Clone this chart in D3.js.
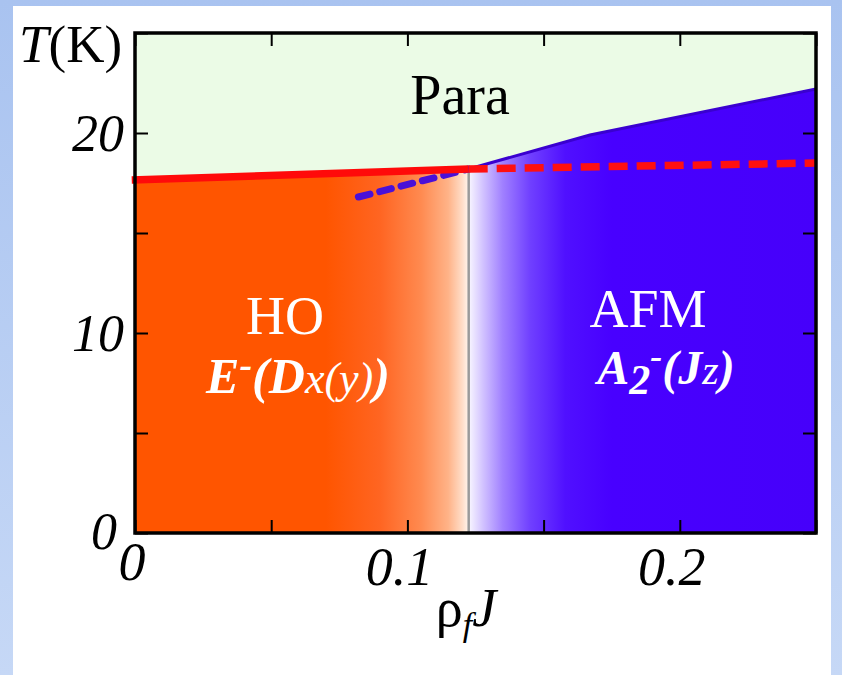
<!DOCTYPE html>
<html>
<head>
<meta charset="utf-8">
<script src="https://cdn.jsdelivr.net/npm/d3@7"></script>
<style>
  html, body { margin: 0; padding: 0; }
  body { width: 842px; height: 675px; overflow: hidden; }
  svg { display: block; }
</style>
</head>
<body>
<svg id="chart" width="842" height="675"></svg>
<script>
// Phase boundaries of the T vs rho_f J diagram
const hoBoundaryJ = [0, 0.1225];            // HO -> Para (solid red)
const hoBoundaryT = [17.65, 18.2];
const afmBoundaryJ = [0.1225, 0.167, 0.25]; // AFM -> Para (blue)
const afmBoundaryT = [18.2, 19.9, 22.2];
const hoMetaJ = [0.1225, 0.25];             // continuation of HO transition (dashed red)
const hoMetaT = [18.2, 18.5];
const afmMetaJ = [0.082, 0.1225];           // continuation of AFM transition (dashed blue)
const afmMetaT = [16.8, 18.2];
const criticalJ = 0.1225;                   // first-order HO/AFM line

const xTicks = [0, 0.05, 0.1, 0.15, 0.2, 0.25];
const xTickLabels = ["0", "", "0.1", "", "0.2", ""];
const yTicks = [0, 5, 10, 15, 20, 25];
const yTickLabels = ["0", "", "10", "", "20", ""];

const svg = d3.select("#chart");
const W = 842, H = 675;
const plot = { left: 135, right: 816, top: 33, bottom: 533 };

const x = d3.scaleLinear().domain([0, 0.25]).range([plot.left, plot.right]);
const y = d3.scaleLinear().domain([0, 25]).range([plot.bottom, plot.top]);

const defs = svg.append("defs");

// slide background
const bg = defs.append("linearGradient").attr("id", "bg").attr("x1", 0).attr("y1", 0).attr("x2", 0).attr("y2", 1);
bg.append("stop").attr("offset", 0).attr("stop-color", "#a9c3f0");
bg.append("stop").attr("offset", 1).attr("stop-color", "#c6d8f6");
svg.append("rect").attr("width", W).attr("height", H).attr("fill", "url(#bg)");
svg.append("rect").attr("x", 13).attr("y", 6).attr("width", 818).attr("height", H - 6).attr("fill", "#ffffff");

// region fills: colour fades to white toward the first-order line
const gHO = defs.append("linearGradient").attr("id", "gHO")
  .attr("gradientUnits", "userSpaceOnUse")
  .attr("x1", x(0)).attr("x2", x(criticalJ)).attr("y1", 0).attr("y2", 0);
[[0, "#ff5500"], [0.07, "#ff5500"], [0.09, "#ff6522"], [0.105, "#ff8a50"], [0.115, "#ffb388"], [0.12, "#ffdcc6"], [0.1225, "#fff5ee"]]
  .forEach(([j, c]) => gHO.append("stop").attr("offset", (x(j) - x(0)) / (x(criticalJ) - x(0))).attr("stop-color", c));

const gAFM = defs.append("linearGradient").attr("id", "gAFM")
  .attr("gradientUnits", "userSpaceOnUse")
  .attr("x1", x(criticalJ)).attr("x2", x(0.25)).attr("y1", 0).attr("y2", 0);
[[0.1225, "#f8f6ff"], [0.128, "#d0c0ff"], [0.135, "#a080ff"], [0.145, "#7040ff"], [0.158, "#5010ff"], [0.175, "#4800ff"], [0.25, "#4600fa"]]
  .forEach(([j, c]) => gAFM.append("stop").attr("offset", (x(j) - x(criticalJ)) / (x(0.25) - x(criticalJ))).attr("stop-color", c));

// Para background
svg.append("rect")
  .attr("x", plot.left).attr("y", plot.top)
  .attr("width", plot.right - plot.left).attr("height", plot.bottom - plot.top)
  .attr("fill", "#ebfbe6");

const areaGen = d3.area().x(d => x(d[0])).y0(y(0)).y1(d => y(d[1]));
const lineGen = d3.line().x(d => x(d[0])).y(d => y(d[1]));

const hoPts = d3.zip(hoBoundaryJ, hoBoundaryT);
const afmPts = d3.zip(afmBoundaryJ, afmBoundaryT);

svg.append("path").datum(hoPts).attr("d", areaGen).attr("fill", "url(#gHO)");
svg.append("path").datum(afmPts).attr("d", areaGen).attr("fill", "url(#gAFM)");

// first-order line between HO and AFM
svg.append("line")
  .attr("x1", x(criticalJ)).attr("x2", x(criticalJ))
  .attr("y1", y(hoBoundaryT[1])).attr("y2", y(0))
  .attr("stroke", "#9a9a9a").attr("stroke-width", 2.5);

// dashed continuations
svg.append("path").datum(d3.zip(afmMetaJ, afmMetaT)).attr("d", lineGen)
  .attr("fill", "none").attr("stroke", "#4a10d8").attr("stroke-width", 7)
  .attr("stroke-dasharray", "12,10").attr("stroke-linecap", "round");

svg.append("path").datum(afmPts).attr("d", lineGen)
  .attr("fill", "none").attr("stroke", "#3a00d0").attr("stroke-width", 3);

svg.append("path").datum(d3.zip(hoMetaJ, hoMetaT)).attr("d", lineGen)
  .attr("fill", "none").attr("stroke", "#ff1010").attr("stroke-width", 7.5)
  .attr("stroke-dasharray", "19,9");

svg.append("path").datum([[ -0.0012, hoBoundaryT[0] ], ...hoPts.slice(1)]).attr("d", lineGen)
  .attr("fill", "none").attr("stroke", "#ff0a0a").attr("stroke-width", 7.5);

// frame and inward ticks
const axisStyle = g => {
  g.select(".domain").remove();
  g.selectAll(".tick line").attr("stroke", "#000").attr("stroke-width", 2);
  g.selectAll(".tick text").remove();
};
svg.append("g").attr("transform", `translate(0,${plot.bottom})`)
  .call(d3.axisTop(x).tickValues(xTicks).tickSize(13)).call(axisStyle);
svg.append("g").attr("transform", `translate(0,${plot.top})`)
  .call(d3.axisBottom(x).tickValues(xTicks).tickSize(13)).call(axisStyle);
svg.append("g").attr("transform", `translate(${plot.left},0)`)
  .call(d3.axisRight(y).tickValues(yTicks).tickSize(13)).call(axisStyle);
svg.append("g").attr("transform", `translate(${plot.right},0)`)
  .call(d3.axisLeft(y).tickValues(yTicks).tickSize(13)).call(axisStyle);

svg.append("rect")
  .attr("x", plot.left).attr("y", plot.top)
  .attr("width", plot.right - plot.left).attr("height", plot.bottom - plot.top)
  .attr("fill", "none").attr("stroke", "#000").attr("stroke-width", 3.5);

const serif = "'Liberation Serif', 'Times New Roman', serif";

// tick labels
svg.append("g").selectAll("text")
  .data(xTicks.map((v, i) => [v, xTickLabels[i]]).filter(d => d[1]))
  .join("text")
  .attr("x", d => d[0] === 0 ? x(d[0]) - 3 : x(d[0]) - 8)
  .attr("y", d => d[0] === 0 ? 580 : 585)
  .attr("text-anchor", "middle")
  .attr("font-family", serif).attr("font-style", "italic").attr("font-size", 54)
  .text(d => d[1]);

svg.append("g").selectAll("text")
  .data(yTicks.map((v, i) => [v, yTickLabels[i]]).filter(d => d[1]))
  .join("text")
  .attr("x", d => d[0] === 0 ? 117 : 124)
  .attr("y", d => d[0] === 0 ? 549 : y(d[0]) + 18)
  .attr("text-anchor", "end")
  .attr("font-family", serif).attr("font-style", "italic").attr("font-size", 52)
  .text(d => d[1]);

// axis titles
const yTitle = svg.append("text").attr("x", 19).attr("y", 62)
  .attr("font-family", serif).attr("font-size", 53);
yTitle.append("tspan").attr("font-style", "italic").text("T");
yTitle.append("tspan").text("(K)");

const xTitle = svg.append("text").attr("x", 466).attr("y", 626).attr("text-anchor", "middle")
  .attr("font-family", serif).attr("font-size", 54);
xTitle.append("tspan").text("ρ");
xTitle.append("tspan").attr("font-style", "italic").attr("font-size", 34).attr("dy", 10).text("f");
xTitle.append("tspan").attr("font-style", "italic").attr("dy", -10).text("J");

// phase labels
svg.append("text").attr("x", 460).attr("y", 114).attr("text-anchor", "middle")
  .attr("font-family", serif).attr("font-size", 56).attr("fill", "#000").text("Para");

svg.append("text").attr("x", 285).attr("y", 334).attr("text-anchor", "middle")
  .attr("font-family", serif).attr("font-size", 54).attr("fill", "#fff").text("HO");

svg.append("text").attr("x", 648).attr("y", 327).attr("text-anchor", "middle")
  .attr("font-family", serif).attr("font-size", 54).attr("fill", "#fff").text("AFM");

const hoSym = svg.append("text").attr("x", 298).attr("y", 393).attr("text-anchor", "middle")
  .attr("font-family", serif).attr("font-style", "italic").attr("font-weight", "bold")
  .attr("font-size", 50).attr("fill", "#fff");
hoSym.append("tspan").text("E");
hoSym.append("tspan").attr("dy", -16).attr("font-size", 38).text("-");
hoSym.append("tspan").attr("dy", 16).text("(D");
hoSym.append("tspan").attr("font-weight", "normal").attr("font-size", 44).text("x(y)");
hoSym.append("tspan").text(")");

const afmSym = svg.append("text").attr("x", 666).attr("y", 384).attr("text-anchor", "middle")
  .attr("font-family", serif).attr("font-style", "italic").attr("font-weight", "bold")
  .attr("font-size", 48).attr("fill", "#fff");
afmSym.append("tspan").text("A");
afmSym.append("tspan").attr("dy", 10).attr("font-size", 42).text("2");
afmSym.append("tspan").attr("dy", -26).attr("font-size", 36).text("-");
afmSym.append("tspan").attr("dy", 16).text("(J");
afmSym.append("tspan").attr("font-weight", "normal").attr("font-size", 42).text("z");
afmSym.append("tspan").text(")");
</script>
</body>
</html>
